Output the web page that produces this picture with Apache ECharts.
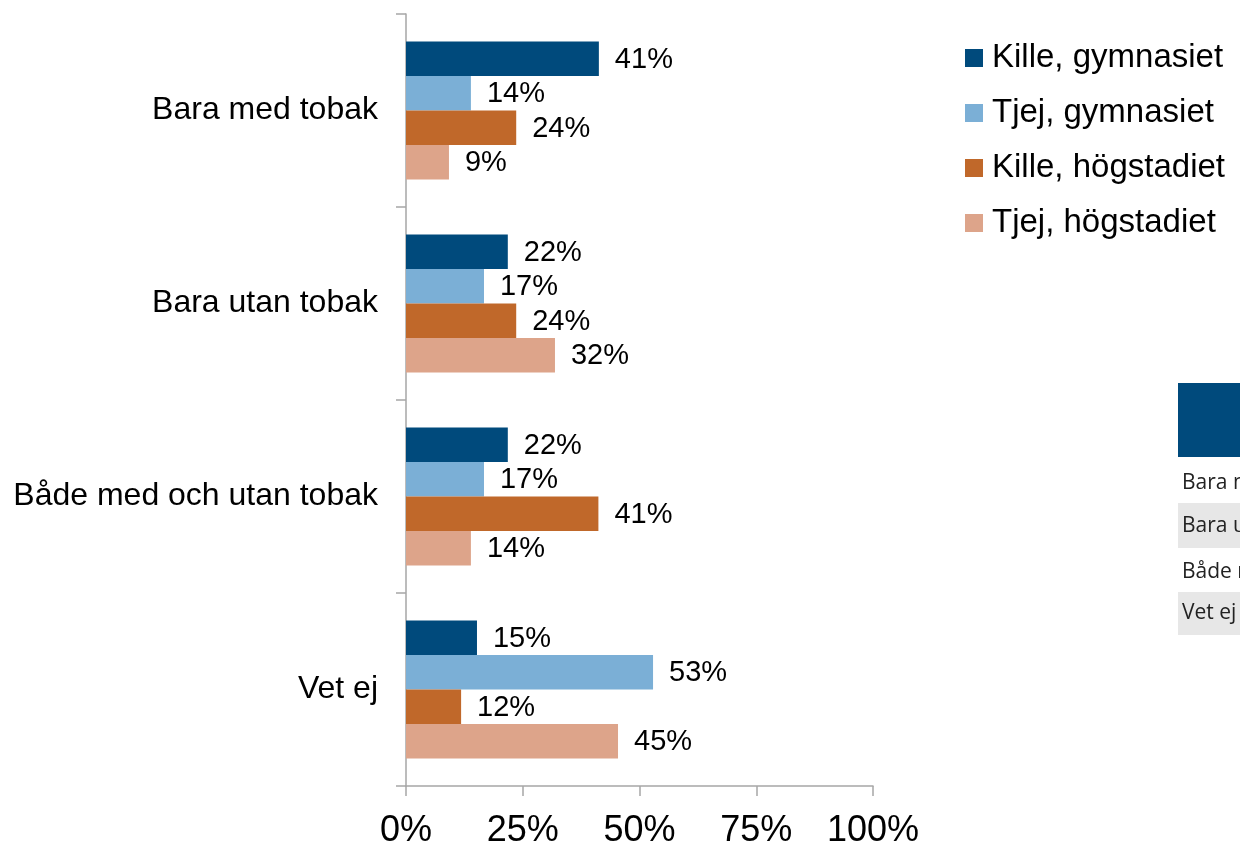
<!DOCTYPE html>
<html>
<head>
<meta charset="utf-8">
<script src="https://cdn.jsdelivr.net/npm/echarts@6/dist/echarts.min.js"></script>
<style>
html,body{margin:0;padding:0;background:#fff;}
#chart{width:1240px;height:844px;}
</style>
</head>
<body>
<div id="chart"></div>
<script>
const categories = ['Bara med tobak', 'Bara utan tobak', 'Både med och utan tobak', 'Vet ej'];
const seriesNames = ['Kille, gymnasiet', 'Tjej, gymnasiet', 'Kille, högstadiet', 'Tjej, högstadiet'];
const killeGymnasiet = [41.3, 21.8, 21.8, 15.2];
const tjejGymnasiet = [13.9, 16.7, 16.7, 52.9];
const killeHogstadiet = [23.6, 23.6, 41.2, 11.8];
const tjejHogstadiet = [9.2, 31.9, 13.9, 45.4];
const xTicks = [0, 25, 50, 75, 100];
const tableRows = ['Bara med tobak', 'Bara utan tobak', 'Både med och utan tobak', 'Vet ej'];

const colors = ['#004A7C', '#7BAFD6', '#C0682A', '#DDA48A'];
const values = [killeGymnasiet, tjejGymnasiet, killeHogstadiet, tjejHogstadiet];
const FONT = '"Liberation Sans", Arial, sans-serif';

const chart = echarts.init(document.getElementById('chart'), null, {renderer: 'canvas'});

const series = seriesNames.map((name, i) => ({
  name: name,
  type: 'bar',
  data: values[i],
  barGap: '0%',
  barCategoryGap: '28.5%',
  itemStyle: {color: colors[i]},
  label: {
    show: true,
    position: 'right',
    distance: 15,
    fontFamily: FONT,
    fontSize: 29,
    color: '#000',
    offset: [1, 1],
    formatter: p => Math.round(p.value) + '%'
  },
  emphasis: {disabled: true}
}));

const rowY = [482, 525, 571, 612];
const tableGraphics = [
  {type: 'rect', shape: {x: 1178, y: 383, width: 80, height: 74}, style: {fill: '#004A7C'}},
  {type: 'rect', shape: {x: 1178, y: 503, width: 80, height: 45}, style: {fill: '#E7E7E7'}},
  {type: 'rect', shape: {x: 1178, y: 592, width: 80, height: 43}, style: {fill: '#E7E7E7'}}
];
tableRows.forEach((t, i) => {
  tableGraphics.push({
    type: 'text', x: 1182, y: rowY[i] + 1,
    style: {text: t, fill: '#222', font: '21px "Open Sans", sans-serif', textVerticalAlign: 'middle', verticalAlign: 'middle'}
  });
});

chart.setOption({
  animation: false,
  backgroundColor: '#fff',
  color: colors,
  grid: {left: 406, right: 367, top: 14, bottom: 58, containLabel: false, outerBoundsMode: 'none'},
  legend: {
    orient: 'vertical',
    left: 960,
    top: 36,
    icon: 'rect',
    itemWidth: 18,
    itemHeight: 18,
    itemGap: 21,
    data: seriesNames,
    textStyle: {fontFamily: FONT, fontSize: 33, color: '#000', padding: [0, 0, 0, 4], lineHeight: 34},
    selectedMode: false
  },
  xAxis: {
    type: 'value',
    min: xTicks[0],
    max: xTicks[xTicks.length - 1],
    interval: 25,
    splitLine: {show: false},
    axisLine: {show: true, lineStyle: {color: '#A6A6A6', width: 1.5}},
    axisTick: {show: true, length: 10, lineStyle: {color: '#A6A6A6', width: 1.5}},
    axisLabel: {fontFamily: FONT, fontSize: 36, color: '#000', margin: 27, formatter: v => v + '%'}
  },
  yAxis: {
    type: 'category',
    data: categories,
    inverse: true,
    axisLine: {show: true, lineStyle: {color: '#A6A6A6', width: 1.5}},
    axisTick: {show: true, length: 10, lineStyle: {color: '#A6A6A6', width: 1.5}},
    axisLabel: {fontFamily: FONT, fontSize: 32, color: '#000', margin: 28, padding: [4, 0, 0, 0]}
  },
  series: series,
  graphic: tableGraphics
});
</script>
</body>
</html>
